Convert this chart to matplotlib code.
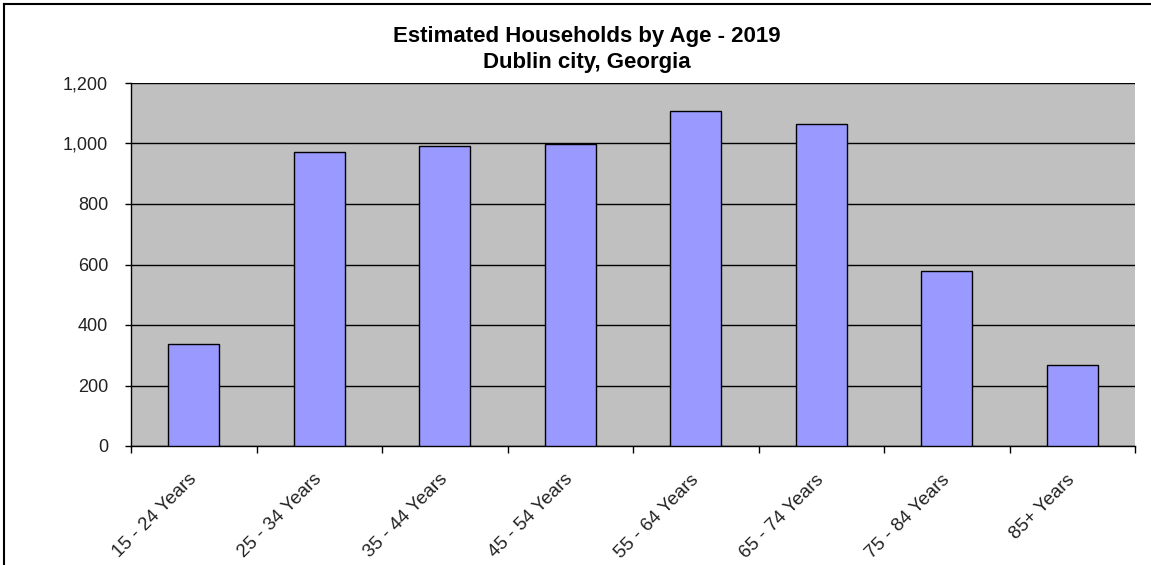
import numpy as np
import matplotlib.pyplot as plt
from matplotlib.lines import Line2D
from matplotlib.ticker import FuncFormatter
from matplotlib.transforms import ScaledTranslation

plt.rcParams['font.family'] = ['Liberation Sans', 'DejaVu Sans']

age_groups = ['15 - 24 Years', '25 - 34 Years', '35 - 44 Years', '45 - 54 Years',
              '55 - 64 Years', '65 - 74 Years', '75 - 84 Years', '85+ Years']
households = [337, 972, 992, 998, 1107, 1065, 578, 268]
y_ticks = [0, 200, 400, 600, 800, 1000, 1200]

fig = plt.figure(figsize=[11.51, 5.65], dpi=100)
ax = fig.add_axes([131/1151, 1 - 446/565, 1004/1151, 363/565])

x = np.arange(len(age_groups))
ax.set_facecolor('#C0C0C0')
ax.set_axisbelow(True)
ax.yaxis.grid(True, color='black', lw=1.0)
ax.bar(x, households, width=0.405, color='#9999FF', edgecolor='black', lw=1.0, zorder=3)

ax.set_xlim(-0.5, len(age_groups) - 0.5)
ax.set_ylim(0, 1200)
ax.set_yticks(y_ticks)
ax.yaxis.set_major_formatter(FuncFormatter(lambda v, p: '{:,.0f}'.format(v)))
ax.tick_params(axis='y', length=4.5, width=1, labelsize=13, pad=12, direction='out',
               labelcolor='#222222')

# category boundaries carry the ticks, labels sit under the bars
ax.set_xticks(np.arange(len(age_groups) + 1) - 0.5)
ax.set_xticklabels([])
ax.tick_params(axis='x', which='major', length=5, width=1, direction='out')
ax.set_xticks(x, minor=True)
ax.set_xticklabels(age_groups, minor=True, rotation=45, ha='right', va='top',
                   rotation_mode='anchor', fontsize=13.5, color='#222222')
ax.tick_params(axis='x', which='minor', length=0, pad=18)
shift = ScaledTranslation(-6/100, 0, fig.dpi_scale_trans)
for lbl in ax.get_xticklabels(minor=True):
    lbl.set_transform(lbl.get_transform() + shift)

for side in ['top', 'right']:
    ax.spines[side].set_visible(False)
ax.spines['left'].set_linewidth(1)
ax.spines['bottom'].set_linewidth(1)

fig.text(587/1151, 1 - 49.5/565, 'Estimated Households by Age - 2019\nDublin city, Georgia',
         ha='center', va='center', fontsize=16, fontweight='bold', linespacing=1.3)

# outer chart frame
fig.add_artist(Line2D([4/1151, 4/1151], [0, 1 - 4/565], color='black', lw=1.5))
fig.add_artist(Line2D([4/1151, 1], [1 - 4/565, 1 - 4/565], color='black', lw=1.5))

fig.savefig('out.png', dpi=100)
